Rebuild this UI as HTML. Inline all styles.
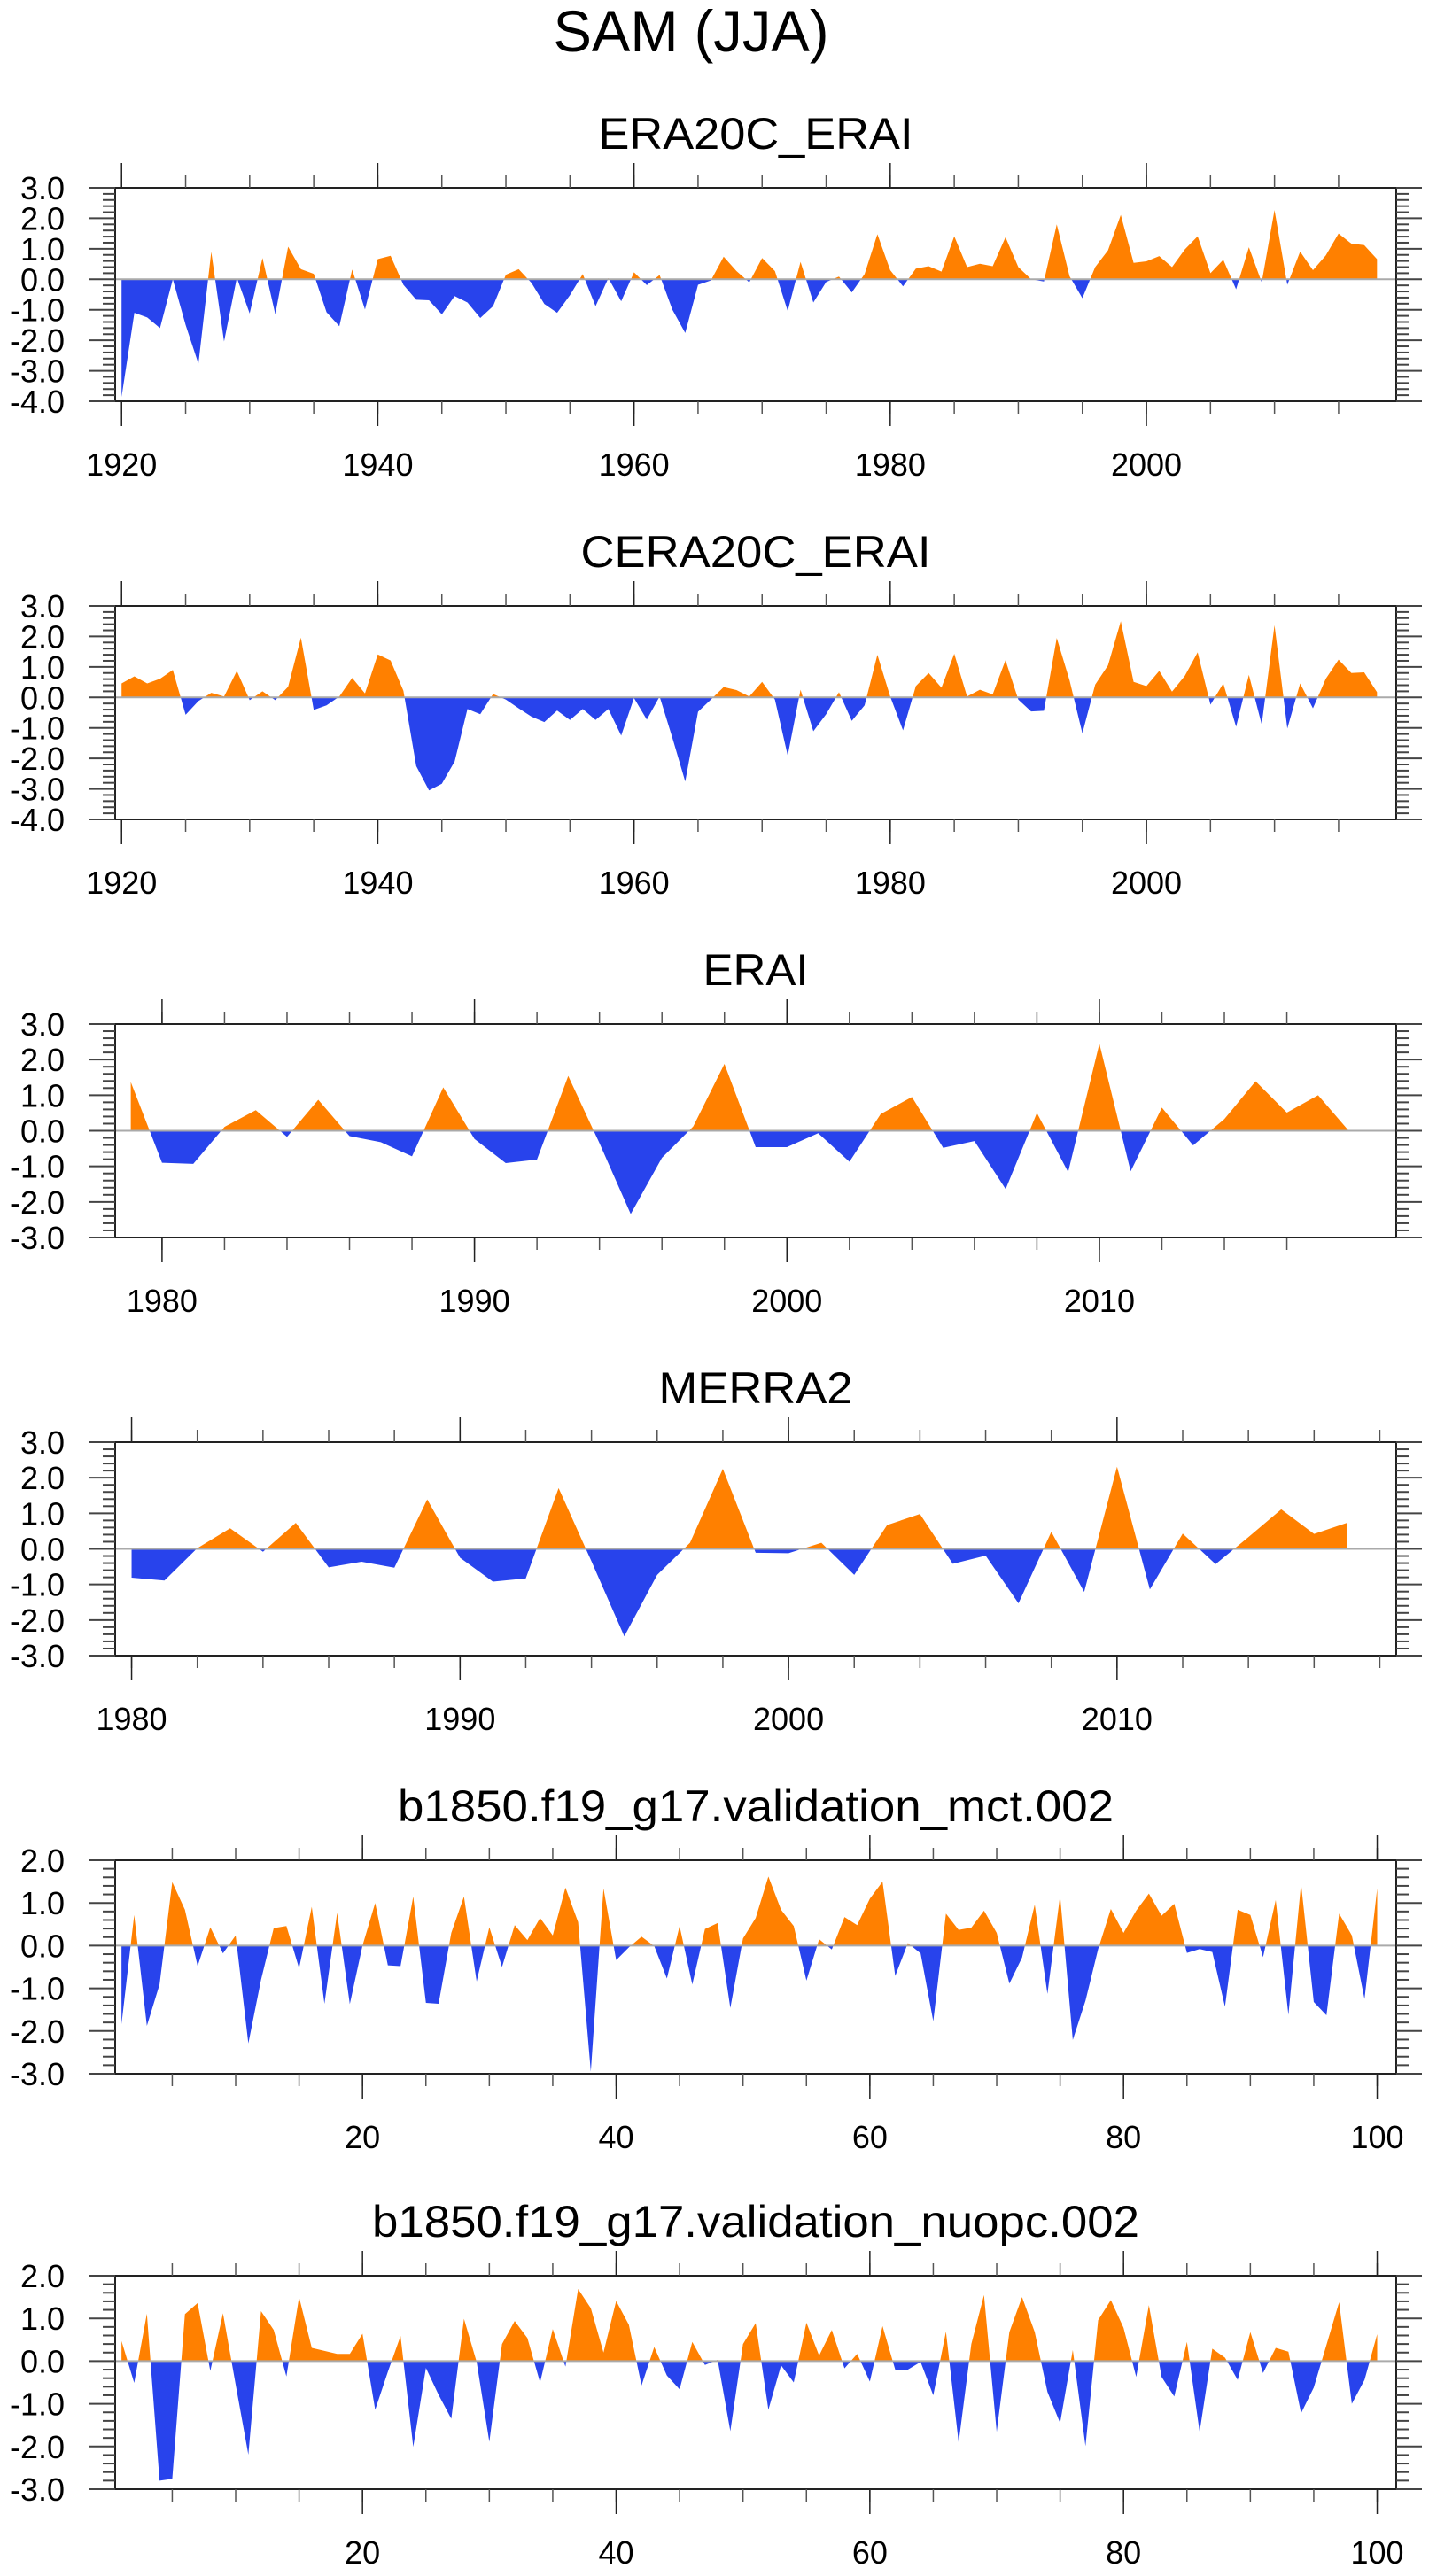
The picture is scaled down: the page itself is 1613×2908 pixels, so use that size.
<!DOCTYPE html>
<html><head><meta charset="utf-8"><style>
html,body{margin:0;padding:0;background:#fff}
svg{display:block}
text{font-family:"Liberation Sans",Arial,sans-serif;fill:#000}
</style></head><body>
<svg id="fig" width="1613" height="2908" viewBox="0 0 1613 2908" xmlns="http://www.w3.org/2000/svg">
<text x="780" y="58" font-size="66" text-anchor="middle" textLength="311" lengthAdjust="spacingAndGlyphs">SAM (JJA)</text>
</svg>
<script>
// ---- data ----
const era20cYears0 = 1920;
const era20cValues = [-3.86,-1.1,-1.25,-1.6,0.0,-1.5,-2.77,0.9,-2.04,0.05,-1.12,0.7,-1.15,1.07,0.33,0.18,-1.08,-1.54,0.32,-0.99,0.66,0.77,-0.18,-0.67,-0.69,-1.15,-0.55,-0.76,-1.27,-0.88,0.15,0.33,-0.12,-0.81,-1.1,-0.52,0.17,-0.88,0.04,-0.72,0.23,-0.19,0.14,-1.0,-1.76,-0.18,-0.04,0.74,0.27,-0.1,0.7,0.27,-1.04,0.57,-0.76,-0.09,0.09,-0.43,0.17,1.48,0.3,-0.23,0.35,0.43,0.25,1.41,0.4,0.51,0.43,1.38,0.4,0.0,-0.07,1.8,0.1,-0.62,0.4,0.95,2.11,0.54,0.59,0.76,0.4,0.98,1.41,0.2,0.64,-0.33,1.05,-0.1,2.27,-0.18,0.91,0.3,0.78,1.5,1.17,1.12,0.66];
const cera20cYears0 = 1920;
const cera20cValues = [0.46,0.69,0.46,0.61,0.9,-0.57,-0.12,0.15,0.03,0.87,-0.09,0.2,-0.09,0.35,1.96,-0.41,-0.26,0.03,0.64,0.13,1.41,1.21,0.22,-2.25,-3.05,-2.83,-2.1,-0.38,-0.55,0.11,-0.07,-0.36,-0.63,-0.81,-0.43,-0.74,-0.38,-0.74,-0.38,-1.25,-0.02,-0.73,0.03,-1.33,-2.76,-0.47,-0.07,0.34,0.24,0.03,0.51,-0.07,-1.91,0.25,-1.11,-0.55,0.17,-0.77,-0.26,1.4,0.03,-1.08,0.37,0.8,0.32,1.43,0.03,0.25,0.1,1.22,-0.07,-0.46,-0.44,1.95,0.56,-1.18,0.42,1.05,2.5,0.51,0.37,0.87,0.19,0.71,1.48,-0.24,0.46,-0.96,0.74,-0.89,2.37,-1.02,0.46,-0.36,0.61,1.24,0.8,0.82,0.17];
const eraiYears0 = 1979;
const eraiValues = [1.37,-0.9,-0.93,0.11,0.58,-0.17,0.87,-0.15,-0.32,-0.72,1.22,-0.23,-0.91,-0.81,1.54,-0.35,-2.34,-0.76,0.12,1.88,-0.46,-0.46,-0.07,-0.87,0.47,0.95,-0.48,-0.29,-1.64,0.5,-1.16,2.45,-1.14,0.65,-0.41,0.33,1.39,0.51,1.0,-0.02];
const merra2Years0 = 1980;
const merra2Values = [-0.81,-0.89,0.02,0.58,-0.08,0.73,-0.52,-0.36,-0.53,1.39,-0.25,-0.92,-0.83,1.71,-0.35,-2.46,-0.73,0.17,2.25,-0.11,-0.12,0.17,-0.73,0.67,0.98,-0.42,-0.19,-1.53,0.48,-1.21,2.31,-1.14,0.43,-0.43,0.33,1.11,0.42,0.73];
const mctYears0 = 1;
const mctValues = [-1.84,0.72,-1.88,-0.91,1.49,0.84,-0.48,0.43,-0.18,0.24,-2.29,-0.8,0.41,0.46,-0.53,0.91,-1.36,0.77,-1.37,0.0,1.0,-0.46,-0.48,1.15,-1.34,-1.36,0.3,1.15,-0.84,0.43,-0.5,0.48,0.13,0.65,0.24,1.36,0.55,-2.95,1.34,-0.34,-0.04,0.21,-0.01,-0.77,0.46,-0.91,0.39,0.53,-1.46,0.17,0.65,1.62,0.84,0.46,-0.82,0.15,-0.09,0.67,0.48,1.1,1.5,-0.71,0.06,-0.18,-1.77,0.75,0.37,0.42,0.82,0.3,-0.89,-0.28,0.96,-1.13,1.18,-2.21,-1.29,-0.08,0.86,0.3,0.82,1.22,0.7,0.98,-0.17,-0.08,-0.15,-1.43,0.84,0.72,-0.27,1.07,-1.62,1.45,-1.32,-1.63,0.75,0.24,-1.25,1.34];
const nuopcYears0 = 1;
const nuopcValues = [0.47,-0.51,1.11,-2.8,-2.76,1.1,1.36,-0.23,1.12,-0.55,-2.19,1.17,0.73,-0.36,1.5,0.31,0.24,0.17,0.17,0.64,-1.14,-0.25,0.59,-2.01,-0.16,-0.79,-1.35,0.99,-0.02,-1.89,0.4,0.94,0.54,-0.5,0.75,-0.13,1.69,1.24,0.2,1.41,0.85,-0.57,0.33,-0.34,-0.66,0.45,-0.09,0.03,-1.64,0.4,0.89,-1.14,-0.1,-0.5,0.9,0.13,0.73,-0.17,0.17,-0.48,0.82,-0.2,-0.2,-0.02,-0.8,0.69,-1.91,0.4,1.55,-1.66,0.68,1.5,0.68,-0.72,-1.45,0.26,-1.99,0.96,1.43,0.78,-0.37,1.31,-0.37,-0.83,0.45,-1.66,0.29,0.08,-0.44,0.68,-0.28,0.31,0.22,-1.22,-0.62,0.38,1.38,-1.0,-0.44,0.63];

const panelTitles = ["ERA20C_ERAI","CERA20C_ERAI","ERAI","MERRA2","b1850.f19_g17.validation_mct.002","b1850.f19_g17.validation_nuopc.002"];
const xMajorLabels = [[1920,1940,1960,1980,2000],[1920,1940,1960,1980,2000],[1980,1990,2000,2010],[1980,1990,2000,2010],[20,40,60,80,100],[20,40,60,80,100]];
const yTickLabels = [[3,2,1,0,-1,-2,-3,-4],[3,2,1,0,-1,-2,-3,-4],[3,2,1,0,-1,-2,-3],[3,2,1,0,-1,-2,-3],[2,1,0,-1,-2,-3],[2,1,0,-1,-2,-3]];

// ---- layout (not data) ----
const L = 130, R = 1576;
const layout = [
 {top:212,bot:453,ymin:-4,ymax:3,xmin:1919.5,xmax:2019.5,minor:5,minorStart:1920,minorEnd:2015,y0:era20cYears0,vals:era20cValues,tl:355,name:"era20c-erai"},
 {top:684,bot:925,ymin:-4,ymax:3,xmin:1919.5,xmax:2019.5,minor:5,minorStart:1920,minorEnd:2015,y0:cera20cYears0,vals:cera20cValues,tl:395,name:"cera20c-erai"},
 {top:1156,bot:1397,ymin:-3,ymax:3,xmin:1978.5,xmax:2019.5,minor:2,minorStart:1980,minorEnd:2016,y0:eraiYears0,vals:eraiValues,tl:119,name:"erai"},
 {top:1628,bot:1869,ymin:-3,ymax:3,xmin:1979.5,xmax:2018.5,minor:2,minorStart:1980,minorEnd:2018,y0:merra2Years0,vals:merra2Values,tl:219,name:"merra2"},
 {top:2100,bot:2341,ymin:-3,ymax:2,xmin:0.5,xmax:101.5,minor:5,minorStart:5,minorEnd:100,y0:mctYears0,vals:mctValues,tl:808,name:"mct"},
 {top:2569,bot:2810,ymin:-3,ymax:2,xmin:0.5,xmax:101.5,minor:5,minorStart:5,minorEnd:100,y0:nuopcYears0,vals:nuopcValues,tl:866,name:"nuopc"}
];
const NS = "http://www.w3.org/2000/svg";
const svg = document.getElementById("fig");
function mk(tag, attrs, parent){const e=document.createElementNS(NS,tag);for(const k in attrs)e.setAttribute(k,attrs[k]);(parent||svg).appendChild(e);return e;}

layout.forEach((p,i)=>{
  const g = mk("g",{});
  
  
  const xs = v => L + (v-p.xmin)/(p.xmax-p.xmin)*(R-L);
  const ys = v => p.top + (p.ymax-v)/(p.ymax-p.ymin)*(p.bot-p.top);
  const zy = ys(0);
  // title
  const t = mk("text",{x:(L+R)/2,y:p.top-44,"font-size":50,"text-anchor":"middle",textLength:p.tl,lengthAdjust:"spacingAndGlyphs"},g);
  t.textContent = panelTitles[i];
  
  
  // clip paths
  const cid="c"+i;
  const defs = mk("defs",{},g);
  const cu = mk("clipPath",{id:cid+"u"},defs); mk("rect",{x:L,y:p.top,width:R-L,height:zy-p.top},cu);
  const cd = mk("clipPath",{id:cid+"d"},defs); mk("rect",{x:L,y:zy,width:R-L,height:p.bot-zy},cd);
  let pts = [];
  p.vals.forEach((v,k)=>pts.push(xs(p.y0+k).toFixed(2)+","+ys(v).toFixed(2)));
  const x0 = xs(p.y0), x1 = xs(p.y0+p.vals.length-1);
  const poly = x0.toFixed(2)+","+zy+" "+pts.join(" ")+" "+x1.toFixed(2)+","+zy;
  const up = mk("polygon",{points:poly,fill:"#FF8000","clip-path":"url(#"+cid+"u)"},g);
  
  
  const dn = mk("polygon",{points:poly,fill:"#2843EC","clip-path":"url(#"+cid+"d)"},g);
  
  
  const zl = mk("line",{x1:L,x2:R,y1:zy,y2:zy,stroke:"#aaa","stroke-width":2},g);
  
  
  // frame
  const fr = mk("rect",{x:L,y:p.top,width:R-L,height:p.bot-p.top,fill:"none",stroke:"#222","stroke-width":2},g);
  
  
  // y ticks
  for(let v=p.ymin; v<=p.ymax+1e-6; v+=0.2){
    const vv=Math.round(v*10)/10, y=ys(vv), major=Math.abs(vv-Math.round(vv))<1e-6;
    const len = major?29:14;
    mk("line",{x1:L-len,x2:L,y1:y,y2:y,stroke:"#444","stroke-width":2},g);
    mk("line",{x1:R,x2:R+len,y1:y,y2:y,stroke:"#444","stroke-width":2},g);
  }
  yTickLabels[i].forEach(v=>{
    const tx = mk("text",{x:73,y:ys(v)+13,"font-size":36,"text-anchor":"end"},g);
    tx.textContent = v.toFixed(1);
    
    
  });
  // x ticks
  for(let x=p.minorStart; x<=p.minorEnd; x+=p.minor){
    const X=xs(x);
    mk("line",{x1:X,x2:X,y1:p.top-14,y2:p.top,stroke:"#555","stroke-width":1.5},g);
    mk("line",{x1:X,x2:X,y1:p.bot,y2:p.bot+14,stroke:"#555","stroke-width":1.5},g);
  }
  xMajorLabels[i].forEach(x=>{
    const X=xs(x);
    mk("line",{x1:X,x2:X,y1:p.top-28,y2:p.top,stroke:"#222","stroke-width":1.5},g);
    mk("line",{x1:X,x2:X,y1:p.bot,y2:p.bot+28,stroke:"#222","stroke-width":1.5},g);
    const tx = mk("text",{x:X,y:p.bot+84,"font-size":36,"text-anchor":"middle"},g);
    tx.textContent = String(x);
    
    
  });
});
</script>
</body></html>
